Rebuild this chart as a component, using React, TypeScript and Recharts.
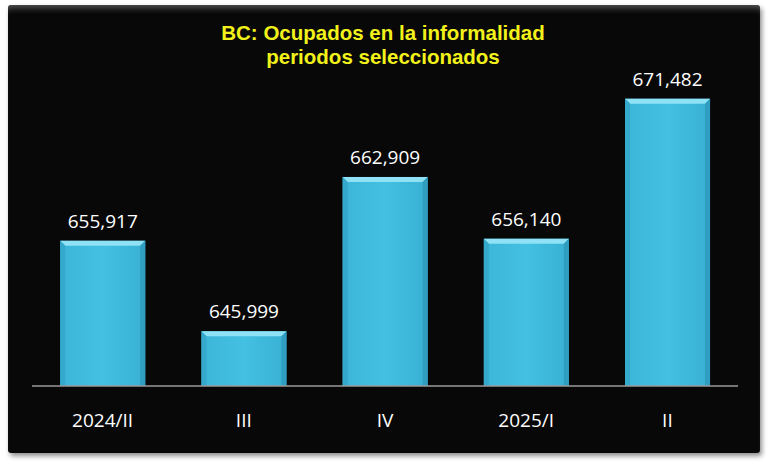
import React from "react";
import { BarChart, Bar, XAxis, YAxis, LabelList } from "recharts";

const categories = ["2024/II", "III", "IV", "2025/I", "II"];
const values = [655917, 645999, 662909, 656140, 671482];
const titleLines = ["BC: Ocupados en la informalidad", "periodos seleccionados"];

const data = categories.map((c, i) => ({ name: c, value: values[i] }));

const fmt = (v: number) => v.toLocaleString("en-US");

const BevelBar = (props: any) => {
  const { x, y, width, height } = props;
  if (!height || height <= 0) return null;
  const b = 5;
  return (
    <g>
      <rect x={x} y={y} width={width} height={height} fill="url(#barBody)" />
      <polygon
        points={`${x},${y} ${x + width},${y} ${x + width - b},${y + b} ${x + b},${y + b}`}
        fill="#8FE2F5"
      />
      <polygon
        points={`${x},${y} ${x + b},${y + b} ${x + b},${y + height} ${x},${y + height}`}
        fill="#34A9CB"
      />
      <polygon
        points={`${x + width},${y} ${x + width - b},${y + b} ${x + width - b},${y + height} ${x + width},${y + height}`}
        fill="#2F9EC0"
      />
    </g>
  );
};

const XTick = (props: any) => {
  const { x, y, payload } = props;
  return (
    <text
      x={x}
      y={y + 33}
      textAnchor="middle"
      fill="#FFFFFF"
      fontFamily="'Open Sans', sans-serif"
      fontSize={19}
    >
      {payload.value}
    </text>
  );
};

export default function App() {
  return (
    <div
      style={{
        position: "absolute",
        left: 0,
        top: 0,
        width: 769,
        height: 468,
        background: "#FFFFFF",
        overflow: "hidden",
      }}
    >
      <div
        style={{
          position: "absolute",
          left: 8,
          top: 5,
          width: 752,
          height: 448,
          background: "#080808",
          borderRadius: 3,
          boxShadow:
            "2px 3px 5px rgba(0,0,0,0.45), inset 0 7px 6px -4px rgba(150,150,150,0.55)",
        }}
      />
      <div style={{ position: "absolute", left: 0, top: 0 }}>
        <BarChart
          width={769}
          height={468}
          data={data}
          margin={{ top: 21, right: 31, bottom: 42, left: 32 }}
          barCategoryGap="20%"
        >
          <defs>
            <linearGradient id="barBody" x1="0" y1="0" x2="1" y2="0">
              <stop offset="0%" stopColor="#3DB6D8" />
              <stop offset="50%" stopColor="#43C0E2" />
              <stop offset="100%" stopColor="#38B0D3" />
            </linearGradient>
          </defs>
          <XAxis
            dataKey="name"
            axisLine={{ stroke: "#9A9A9A", strokeWidth: 1.5 }}
            tickLine={false}
            height={40}
            tick={<XTick />}
            interval={0}
          />
          <YAxis hide domain={[640000, 680000]} allowDataOverflow />
          <Bar dataKey="value" isAnimationActive={false} shape={<BevelBar />}>
            <LabelList
              dataKey="value"
              position="top"
              offset={13}
              formatter={(v: any) => fmt(Number(v))}
              fill="#FFFFFF"
              fontFamily="'Open Sans', sans-serif"
              fontSize={19}
            />
          </Bar>
        </BarChart>
      </div>
      <div
        style={{
          position: "absolute",
          left: 0,
          width: 766,
          top: 21,
          textAlign: "center",
          color: "#F2F21A",
          fontFamily: "'Liberation Sans', Arial, sans-serif",
          fontWeight: "bold",
          fontSize: 20.5,
          lineHeight: "24px",
        }}
      >
        {titleLines.map((t) => (
          <div key={t}>{t}</div>
        ))}
      </div>
    </div>
  );
}
